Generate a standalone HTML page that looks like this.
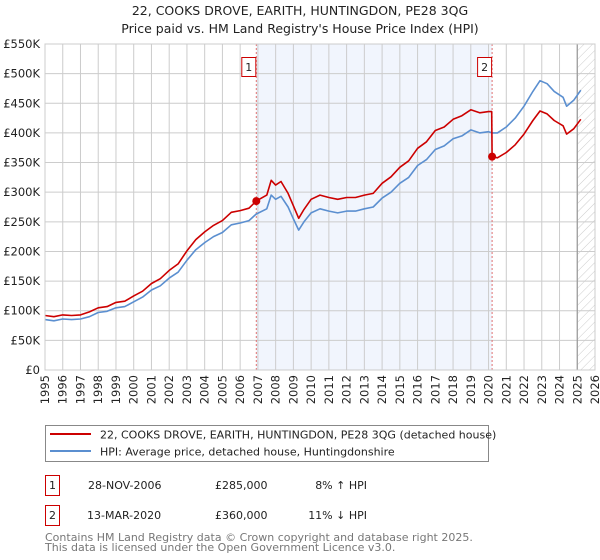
<!DOCTYPE html>
<html><head><meta charset="utf-8"><style>
html,body{margin:0;padding:0;background:#fff}
svg{display:block;font-family:"DejaVu Sans","Liberation Sans",sans-serif}
</style></head><body>
<svg id="chart" width="600" height="560" viewBox="0 0 600 560">
<defs><pattern id="hatch" width="6" height="6" patternUnits="userSpaceOnUse" patternTransform="rotate(45)"><line x1="0" y1="0" x2="0" y2="6" stroke="#ccc" stroke-width="1"/></pattern></defs>
<text x="300" y="15" text-anchor="middle" font-size="12.5" fill="#222">22, COOKS DROVE, EARITH, HUNTINGDON, PE28 3QG</text>
<text x="300" y="33" text-anchor="middle" font-size="12.5" fill="#222">Price paid vs. HM Land Registry's House Price Index (HPI)</text>
<g id="plot"></g>
<g>
<rect x="45.5" y="425.5" width="443" height="36" fill="#fff" stroke="#888"/>
<line x1="50" y1="434" x2="91" y2="434" stroke="#cc0000" stroke-width="2"/>
<text x="100" y="438.5" font-size="11" fill="#222">22, COOKS DROVE, EARITH, HUNTINGDON, PE28 3QG (detached house)</text>
<line x1="50" y1="451" x2="91" y2="451" stroke="#5b8fd0" stroke-width="2"/>
<text x="100" y="455.5" font-size="11" fill="#222">HPI: Average price, detached house, Huntingdonshire</text>
</g>
<g font-size="11" fill="#222">
<rect x="45.5" y="475.5" width="14" height="20" fill="#fff" stroke="#cc0000"/>
<text x="52.5" y="489" text-anchor="middle">1</text>
<text x="88" y="489">28-NOV-2006</text>
<text x="215" y="489">£285,000</text>
<text x="367" y="489" text-anchor="end">8% ↑ HPI</text>
<rect x="45.5" y="505.5" width="14" height="20" fill="#fff" stroke="#cc0000"/>
<text x="52.5" y="519" text-anchor="middle">2</text>
<text x="87" y="519">13-MAR-2020</text>
<text x="215" y="519">£360,000</text>
<text x="367" y="519" text-anchor="end">11% ↓ HPI</text>
</g>
<text x="45" y="541" font-size="11" fill="#777">Contains HM Land Registry data © Crown copyright and database right 2025.</text>
<text x="45" y="551" font-size="11" fill="#777">This data is licensed under the Open Government Licence v3.0.</text>
</svg>
<script>
const hpiYears=[1995,1995.5,1996,1996.5,1997,1997.5,1998,1998.5,1999,1999.5,2000,2000.5,2001,2001.5,2002,2002.5,2003,2003.5,2004,2004.5,2005,2005.5,2006,2006.5,2006.9,2007.5,2007.75,2008,2008.3,2008.7,2009,2009.3,2009.6,2010,2010.5,2011,2011.5,2012,2012.5,2013,2013.5,2014,2014.5,2015,2015.5,2016,2016.5,2017,2017.5,2018,2018.5,2019,2019.5,2020,2020.2,2020.5,2021,2021.5,2022,2022.5,2022.9,2023.3,2023.7,2024.2,2024.4,2024.8,2025.2];
const hpiValues=[85,83,86,85,86,90,97,99,105,107,115,123,135,142,155,165,185,203,215,225,232,245,248,252,263,272,295,288,293,275,255,236,250,265,272,268,265,268,268,272,275,290,300,315,325,345,355,372,378,390,395,405,400,402,400,400,410,425,445,470,488,483,470,460,445,455,472];
const propYears=[1995,1995.5,1996,1996.5,1997,1997.5,1998,1998.5,1999,1999.5,2000,2000.5,2001,2001.5,2002,2002.5,2003,2003.5,2004,2004.5,2005,2005.5,2006,2006.5,2006.9,2007.5,2007.75,2008,2008.3,2008.7,2009,2009.3,2009.6,2010,2010.5,2011,2011.5,2012,2012.5,2013,2013.5,2014,2014.5,2015,2015.5,2016,2016.5,2017,2017.5,2018,2018.5,2019,2019.5,2020,2020.18,2020.2,2020.5,2021,2021.5,2022,2022.5,2022.9,2023.3,2023.7,2024.2,2024.4,2024.8,2025.2];
const propValues=[92,90,93,92,93,98,105,107,114,116,125,133,146,154,168,179,201,220,233,244,252,266,269,273,285,295,320,312,318,298,277,256,271,288,295,291,288,291,291,295,298,315,326,342,353,374,385,404,410,423,429,439,434,436,436,360,358,367,380,398,421,437,432,421,412,398,407,423];
const saleYears=[2006.91,2020.2];
const salePrices=[285,360];
const saleLabels=["1","2"];
const yTicks=[0,50,100,150,200,250,300,350,400,450,500,550];
const yTickLabels=["£0","£50K","£100K","£150K","£200K","£250K","£300K","£350K","£400K","£450K","£500K","£550K"];
const xTicks=[1995,1996,1997,1998,1999,2000,2001,2002,2003,2004,2005,2006,2007,2008,2009,2010,2011,2012,2013,2014,2015,2016,2017,2018,2019,2020,2021,2022,2023,2024,2025,2026];
const L=45,R=595,T=44,B=370,X0=1995,X1=2026,YMAX=550,dataEnd=2025.0;
const x=v=>L+(v-X0)/(X1-X0)*(R-L);
const y=v=>B-v/YMAX*(B-T);
const NS="http://www.w3.org/2000/svg";
const g=document.getElementById('plot');
function mk(t,a,p){const e=document.createElementNS(NS,t);for(const k in a)e.setAttribute(k,a[k]);(p||g).appendChild(e);return e;}
// shade between sales
let sh=mk('rect',{x:x(saleYears[0]),y:T,width:x(saleYears[1])-x(saleYears[0]),height:B-T,fill:'#eef3fc',opacity:0.8});


let ht=mk('rect',{x:x(dataEnd),y:T,width:R-x(dataEnd),height:B-T,fill:'url(#hatch)'});


xTicks.forEach((t,i)=>{
 const l=mk('line',{x1:x(t),x2:x(t),y1:T,y2:B,stroke:'#ccc','stroke-width':1});
 
 
 const tx=mk('text',{x:0,y:0,'font-size':11.5,fill:'#222','text-anchor':'end',transform:`translate(${x(t)+4},${B+5}) rotate(-90)`});
 tx.textContent=t;
 
 
});
yTicks.forEach((t,i)=>{
 const l=mk('line',{x1:L,x2:R,y1:y(t),y2:y(t),stroke:'#ccc','stroke-width':1});
 
 
 const tx=mk('text',{x:L-5,y:y(t)+4,'font-size':11.5,fill:'#222','text-anchor':'end'});
 tx.textContent=yTickLabels[i];
 
 
});
let el=mk('line',{x1:x(dataEnd),x2:x(dataEnd),y1:T,y2:B,stroke:'#999','stroke-width':1.2});


saleYears.forEach((s,i)=>{
 const l=mk('line',{x1:x(s),x2:x(s),y1:T,y2:B,stroke:'#e07070','stroke-width':1,'stroke-dasharray':'2,2'});
 
 
 const r=mk('rect',{x:x(s)-14.5,y:57.5,width:14,height:19,fill:'#fff',stroke:'#cc0000'});
 
 
 const tx=mk('text',{x:x(s)-7.5,y:71,'font-size':11,fill:'#222','text-anchor':'middle'});
 tx.textContent=saleLabels[i];
 
 
});
const pts=(xs,vs)=>xs.map((v,i)=>x(v).toFixed(1)+','+y(vs[i]).toFixed(1)).join(' ');
let hl=mk('polyline',{points:pts(hpiYears,hpiValues),fill:'none',stroke:'#5b8fd0','stroke-width':1.6,'stroke-linejoin':'round'});


let pl=mk('polyline',{points:pts(propYears,propValues),fill:'none',stroke:'#cc0000','stroke-width':1.6,'stroke-linejoin':'round'});


saleYears.forEach((s,i)=>{
 const c=mk('circle',{cx:x(s),cy:y(salePrices[i]),r:4,fill:'#cc0000'});
 
 
});
let fr=mk('rect',{x:L,y:T,width:R-L,height:B-T,fill:'none',stroke:'#ccc'});


</script>
</body></html>
